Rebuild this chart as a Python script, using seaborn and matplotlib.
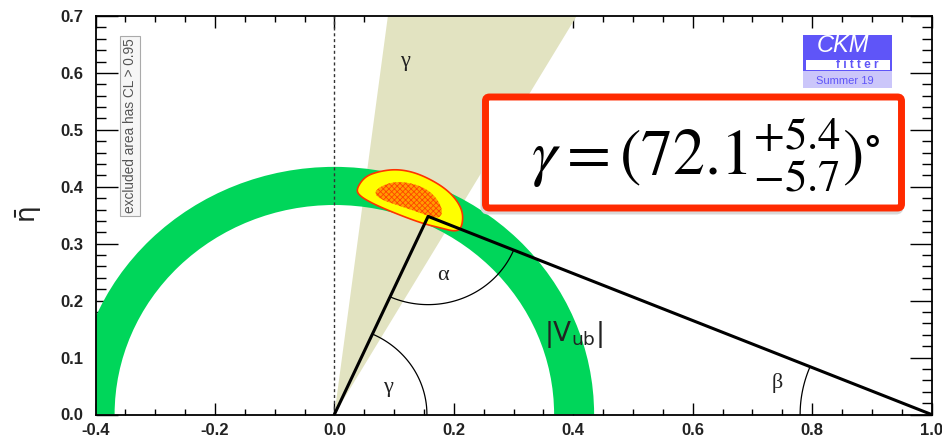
import numpy as np
import matplotlib
matplotlib.use("Agg")
import matplotlib.pyplot as plt
import matplotlib.transforms as mtransforms
from matplotlib.patches import Wedge, Polygon, FancyBboxPatch, Rectangle
from matplotlib.ticker import MultipleLocator, FormatStrFormatter
import seaborn as sns

# ---------------------------------------------------------------- data
# Unitarity triangle: origin -> apex (rho-bar, eta-bar) -> (1, 0)
triangle_rho = [0.0, 0.157, 1.0]
triangle_eta = [0.0, 0.348, 0.0]

# gamma constraint (95% CL wedge from the origin), degrees
gamma_band_deg = [59.9, 82.7]
gamma_value = 72.1
gamma_err_up = 5.4
gamma_err_down = 5.7

# |Vub| ring radii around the origin
vub_radii = [0.368, 0.435]

# global fit, 95% CL contour
fit95_rho = [0.0374, 0.0513, 0.0735, 0.1015, 0.1295, 0.1573, 0.1853, 0.2049,
             0.2159, 0.2132, 0.2020, 0.1797, 0.1462, 0.1015, 0.0625, 0.0400]
fit95_eta = [0.3975, 0.4180, 0.4267, 0.4309, 0.4267, 0.4151, 0.3975, 0.3770,
             0.3536, 0.3272, 0.3213, 0.3272, 0.3360, 0.3536, 0.3712, 0.3858]
# global fit, 68% CL contour
fit68_rho = [0.0660, 0.0792, 0.1015, 0.1295, 0.1560, 0.1730, 0.1810, 0.1780,
             0.1657, 0.1405, 0.1070, 0.0780]
fit68_eta = [0.3895, 0.4020, 0.4090, 0.4065, 0.3955, 0.3775, 0.3594, 0.3466,
             0.3456, 0.3554, 0.3672, 0.3775]

# angle markers: radius of each arc
arc_radius = {"gamma": 0.155, "alpha": 0.155, "beta": 0.22}

# axis ranges and ticks
x_range = [-0.4, 1.0]
y_range = [0.0, 0.7]
x_major, x_minor = 0.2, 0.05
y_major, y_minor = 0.1, 0.02

# ---------------------------------------------------------------- style
sns.set_theme(style="ticks")
plt.rcParams["font.family"] = ["Liberation Sans", "DejaVu Sans"]
plt.rcParams["axes.unicode_minus"] = False
plt.rcParams["hatch.linewidth"] = 0.6

GREEN = "#00d65a"
TAN = "#e2e3c1"
YELLOW = "#ffff00"
CONTOUR_EDGE = "#ff3300"
ORANGE = "#ff4400"
BLUE = "#5f55f8"
LAVENDER = "#cbc6fa"
RED = "#ff2a00"
INK = "#222222"

W, H = 942, 443
fig = plt.figure(figsize=(W / 100, H / 100), dpi=100)
ax = fig.add_axes([95.5 / W, 1 - 414.5 / H, 836 / W, 398.5 / H])
ax.set_xlim(*x_range)
ax.set_ylim(*y_range)
px = mtransforms.IdentityTransform()


def smooth_closed(x, y, n=3):
    """Chaikin corner cutting on a closed outline."""
    p = np.column_stack([x, y]).astype(float)
    for _ in range(n):
        q = np.roll(p, -1, axis=0)
        a = 0.75 * p + 0.25 * q
        b = 0.25 * p + 0.75 * q
        p = np.empty((2 * len(a), 2))
        p[0::2] = a
        p[1::2] = b
    return p


# gamma wedge
ax.add_patch(Wedge((0, 0), 2.0, gamma_band_deg[0], gamma_band_deg[1],
                   facecolor=TAN, edgecolor="none", zorder=1))
# |Vub| ring
ax.add_patch(Wedge((0, 0), vub_radii[1], 0, 180,
                   width=vub_radii[1] - vub_radii[0],
                   facecolor=GREEN, edgecolor="none", zorder=2))

# fit contours
ax.add_patch(Polygon(smooth_closed(fit95_rho, fit95_eta), closed=True,
                     facecolor=YELLOW, edgecolor=CONTOUR_EDGE, lw=1.2, zorder=3))
ax.add_patch(Polygon(smooth_closed(fit68_rho, fit68_eta), closed=True,
                     facecolor="#ff9d00", edgecolor=ORANGE, hatch="xxxxxx",
                     lw=0, zorder=4))

# dashed line at rho = 0
ax.axvline(0, color="#333333", lw=1.0, ls=(0, (2.2, 2.0)), zorder=5)

# triangle sides
sns.lineplot(x=triangle_rho, y=triangle_eta, sort=False, estimator=None,
             color="black", lw=2.2, ax=ax, zorder=6)

# angle arcs
apex_r, apex_e = triangle_rho[1], triangle_eta[1]
ang_gamma = np.arctan2(apex_e, apex_r)
ang_beta = np.arctan2(apex_e, apex_r - 1.0)
t = np.linspace(0, ang_gamma, 80)
ax.plot(arc_radius["gamma"] * np.cos(t), arc_radius["gamma"] * np.sin(t),
        color="black", lw=0.9, zorder=6)
t = np.linspace(np.arctan2(-apex_e, -apex_r) + 2 * np.pi,
                np.arctan2(-apex_e, 1.0 - apex_r) + 2 * np.pi, 80)
ax.plot(apex_r + arc_radius["alpha"] * np.cos(t),
        apex_e + arc_radius["alpha"] * np.sin(t), color="black", lw=0.9, zorder=6)
t = np.linspace(ang_beta, np.pi, 60)
ax.plot(1.0 + arc_radius["beta"] * np.cos(t), arc_radius["beta"] * np.sin(t),
        color="black", lw=0.9, zorder=6)

# labels of the angles and constraints
greek = dict(fontsize=16, family="Liberation Serif", color=INK,
             ha="center", va="center", zorder=7)
ax.text(0.090, 0.048, "γ", **greek)
ax.text(0.182, 0.245, "α", **greek)
ax.text(0.741, 0.055, "β", **greek)
ax.text(0.118, 0.620, "γ", **greek)
ax.text(0.400, 0.140, r"$|\mathrm{V}_{\mathrm{ub}}|$", fontsize=19,
        math_fontfamily="dejavusans", color=INK, ha="center",
        va="center", zorder=7)

# excluded-area note
ax.text(130, H - 126, "excluded area has CL > 0.95", transform=px,
        rotation=90, ha="center", va="center", fontsize=9.8, color="#555555",
        bbox=dict(boxstyle="square,pad=0.2", fc="#f6f6f6", ec="#aaaaaa",
                  lw=0.8), zorder=8)

# axes, ticks
ax.xaxis.set_major_locator(MultipleLocator(x_major))
ax.xaxis.set_minor_locator(MultipleLocator(x_minor))
ax.yaxis.set_major_locator(MultipleLocator(y_major))
ax.yaxis.set_minor_locator(MultipleLocator(y_minor))
ax.xaxis.set_major_formatter(FormatStrFormatter("%.1f"))
ax.yaxis.set_major_formatter(FormatStrFormatter("%.1f"))
ax.tick_params(which="both", direction="in", top=True, right=True,
               color="black", width=1.0)
ax.tick_params(axis="x", which="major", length=8.6, pad=6)
ax.tick_params(axis="x", which="minor", length=4.3)
ax.tick_params(axis="y", which="major", length=15.8, pad=9)
ax.tick_params(axis="y", which="minor", length=7.2)
for lab in ax.get_xticklabels() + ax.get_yticklabels():
    lab.set_fontweight("bold")
    lab.set_fontsize(12)
    lab.set_color(INK)
for s in ax.spines.values():
    s.set_linewidth(1.3)
    s.set_color("black")
    s.set_zorder(9)
ax.set_xlabel("")
ax.set_ylabel("")
fig.text(26, H - 212, "\u03b7\u0304", transform=px, rotation=90,
         ha="center", va="center", fontsize=19, family="DejaVu Sans",
         color=INK)

# result box, with a faint shadow
fig.add_artist(FancyBboxPatch((484, H - 211), 416, 111,
                              boxstyle="round,pad=0,rounding_size=4",
                              transform=px, lw=5.0, ec="#d8d8d8", fc="none",
                              zorder=9.5))
fig.add_artist(FancyBboxPatch((485.5, H - 208), 416, 111,
                              boxstyle="round,pad=0,rounding_size=4",
                              transform=px, lw=5.0, ec=RED, fc="white",
                              zorder=10))
fig.text(706, H - 155,
         rf"$\gamma = ({gamma_value}^{{+{gamma_err_up}}}_{{-{gamma_err_down}}})^{{\circ}}$",
         transform=px, ha="center", va="center", fontsize=46,
         math_fontfamily="stix", color="black", zorder=11)

# CKMfitter badge
fig.add_artist(Rectangle((803, H - 71), 89, 36, transform=px, fc=BLUE,
                         ec="none", zorder=10))
fig.add_artist(Rectangle((805.5, H - 69.5), 84, 10, transform=px, fc="white",
                         ec="none", zorder=11))
fig.add_artist(Rectangle((803, H - 88), 89, 17, transform=px, fc=LAVENDER,
                         ec="none", zorder=10))
fig.text(843, H - 46, "CKM", transform=px, ha="center", va="center",
         fontsize=17, style="italic", color="white", zorder=12)
fig.text(857, H - 64.5, "f i t t e r", transform=px, ha="center",
         va="center", fontsize=8.5, fontweight="bold", color=BLUE, zorder=12)
fig.text(845, H - 81.5, "Summer 19", transform=px, ha="center", va="center",
         fontsize=8, color=BLUE, zorder=12)

fig.savefig("out.png", dpi=100)
